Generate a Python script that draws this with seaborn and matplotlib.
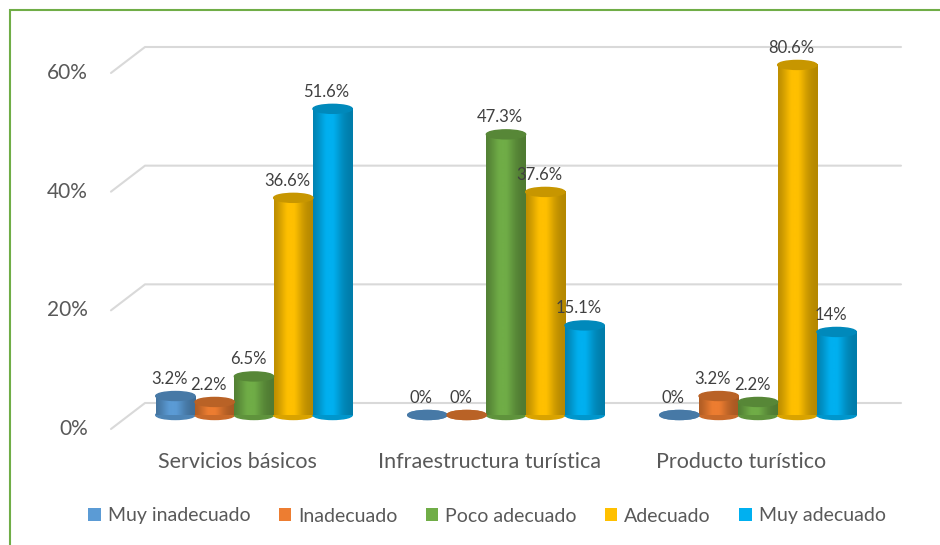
import numpy as np
import pandas as pd
import seaborn as sns
import matplotlib.pyplot as plt
from matplotlib.patches import Ellipse, Patch, Rectangle
from matplotlib.lines import Line2D
import matplotlib.colors as mcolors

categorias = ["Servicios básicos", "Infraestructura turística", "Producto turístico"]
niveles = ["Muy inadecuado", "Inadecuado", "Poco adecuado", "Adecuado", "Muy adecuado"]
muy_inadecuado = [3.2, 0, 0]
inadecuado = [2.2, 0, 3.2]
poco_adecuado = [6.5, 47.3, 2.2]
adecuado = [36.6, 37.6, 80.6]
muy_adecuado = [51.6, 15.1, 14]
colores = ["#5B9BD5", "#ED7D31", "#70AD47", "#FFC000", "#00B0F0"]
ticks = [0, 20, 40, 60]

series = [muy_inadecuado, inadecuado, poco_adecuado, adecuado, muy_adecuado]
df = pd.DataFrame({
    "categoria": np.tile(categorias, len(niveles)),
    "nivel": np.repeat(niveles, len(categorias)),
    "valor": np.concatenate(series),
})

sns.set_style("white")
plt.rcParams["font.family"] = ["Lato", "DejaVu Sans"]
gris = "#595959"

fig = plt.figure(figsize=(9.4, 5.45), dpi=100)
ax = fig.add_axes([128 / 940, 130 / 545, 756 / 940, 356 / 545])
sns.barplot(data=df, x="categoria", y="valor", hue="nivel", order=categorias,
            hue_order=niveles, palette=colores, width=0.78, gap=0, saturation=1,
            errorbar=None, legend=False, ax=ax)
ax.set_xlim(-0.5, 2.5)
ax.set_ylim(0, 60)
ax.axis("off")

# pixel -> data (vertical)
px = 60 / 356
t = np.linspace(0, 1, 80)
sombra = 0.70 + 0.32 * np.exp(-((t - 0.42) / 0.3) ** 2)
sombra = np.clip(sombra, 0, 1)

for cont, col, vals in zip(ax.containers, colores, series):
    base = np.array(mcolors.to_rgb(col))
    img = np.clip(base[None, None, :] * sombra[None, :, None], 0, 1)
    for bar, v in zip(cont, vals):
        bar.set_visible(False)
        x0, w = bar.get_x(), bar.get_width()
        xc = x0 + w / 2
        top = min(v, 59)
        ax.add_patch(Ellipse((xc, 0), w, 9 * px, color=base * 0.85, clip_on=False, zorder=2))
        if top > 0:
            ax.imshow(img, extent=[x0, x0 + w, 0, top], aspect="auto",
                      interpolation="bicubic", zorder=3, clip_on=False)
        ax.add_patch(Ellipse((xc, top), w, 9 * px, color=base * 0.78, clip_on=False, zorder=4))
        ax.annotate(f"{v:g}%", xy=(xc, top), xytext=(-6, 17), textcoords="offset pixels",
                    ha="center", va="center", fontsize=12, color="#404040",
                    annotation_clip=False, zorder=5)

ax.set_xlim(-0.5, 2.5)
ax.set_ylim(0, 60)

# pared del fondo y rejilla inclinada
fig.canvas.draw()
inv = fig.transFigure.inverted()
x_izq = ax.transAxes.transform((0, 0))[0]
x_der = ax.transAxes.transform((1, 0))[0]
for v in ticks:
    yb = ax.transData.transform((0, v))[1]
    back_y = yb + 12
    pts = inv.transform([(x_izq - 17, back_y - 26), (x_izq + 17, back_y), (x_der + 17, back_y)])
    fig.add_artist(Line2D(pts[:, 0], pts[:, 1], color="#D9D9D9", lw=1.5, zorder=0))
    lp = inv.transform((x_izq - 40, back_y - 26))
    fig.text(lp[0], lp[1], f"{v}%", ha="right", va="center", fontsize=15, color=gris)

for i, c in enumerate(categorias):
    ax.annotate(c, xy=(i, 0), xytext=(-17, -47), textcoords="offset pixels",
                ha="center", va="center", fontsize=15.5, color=gris, annotation_clip=False)

handles = [Patch(facecolor=c, edgecolor="none") for c in colores]
fig.legend(handles, niveles, loc="center", bbox_to_anchor=(487 / 940, 1 - 516 / 545),
           ncol=5, frameon=False, fontsize=14, handlelength=0.65, handleheight=0.65,
           handletextpad=0.35, columnspacing=1.45, labelcolor=gris)

fig.add_artist(Rectangle((9.5 / 940, -0.1), 1.2, (545 - 9.5) / 545 + 0.1,
                         transform=fig.transFigure, fill=False, edgecolor="#70AD47", lw=1.5))

fig.savefig("out.png", dpi=100)
